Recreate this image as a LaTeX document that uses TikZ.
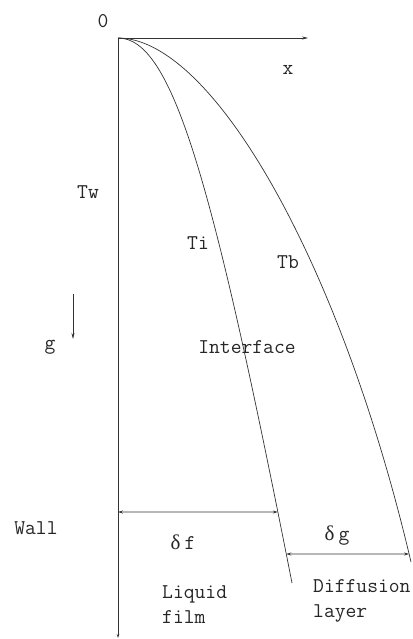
\documentclass[tikz,border=0pt]{standalone}
\usepackage{fontspec}
\newfontfamily\greekfont{Liberation Serif}
\usetikzlibrary{arrows.meta, intersections}

\begin{document}
\begin{tikzpicture}[
    x=1pt, y=-1pt,
    line/.style={draw=black!80, line width=0.7pt},
    arr/.style={line, -{Stealth[length=6pt, width=3pt]}},
    dim/.style={line, {Stealth[length=5pt, width=3pt]}-{Stealth[length=5pt, width=3pt]}},
    lbl/.style={font=\ttfamily\fontsize{21}{25}\selectfont, text=black!85, inner sep=0pt},
]
\useasboundingbox (0,0) rectangle (412,639);

% axes
\coordinate (O) at (118,38);
\coordinate (xend) at (308,38);
\coordinate (wallend) at (118,638);
\draw[arr] (O) -- (xend);
\draw[line, -{Stealth[length=4pt, width=2.5pt]}] (O) -- (wallend);

% interface and bulk profiles
\draw[line, name path=ti] (O) .. controls (172,38) and (212,177) .. (292,583);
\draw[line, name path=tb] (O) .. controls (212,38) and (340,260) .. (411,562);

% film thicknesses
\path[name path=dfrow] (118,512) -- (412,512);
\path[name intersections={of=ti and dfrow, by=dfr}];
\coordinate (dfl) at (118,512);
\draw[dim] (dfl) -- (dfr);
\path[name path=dgrow] (118,554) -- (412,554);
\path[name intersections={of=ti and dgrow, by=dgl}];
\path[name intersections={of=tb and dgrow, by=dgr}];
\draw[dim] (dgl) -- (dgr);

% gravity
\coordinate (gtop) at (73,294);
\coordinate (gbot) at (73,339);
\draw[arr] (gtop) -- (gbot);

% labels
\node[lbl] (origin) at (103,21) {0};
\node[lbl] (xlab) at (288,70) {x};
\node[lbl] (tw) at (88,192) {Tw};
\node[lbl] (tilab) at (198,243) {Ti};
\node[lbl] (tblab) at (288,262) {Tb};
\node[lbl] (glab) at (50,347) {g};
\node[lbl] (iface) at (247,347) {Interface};
\node[lbl] (wall) at (36,528) {Wall};
\node[lbl] (df) at (183,542) {{\greekfont δ}\hspace{4pt}f};
\node[lbl] (dg) at (337,536) {{\greekfont δ}\hspace{4pt}g};
\node[lbl, align=left, anchor=west] (liquid) at (162,605) {Liquid\\film};
\node[lbl, align=left, anchor=west] (diffusion) at (313,601) {Diffusion\\layer};
\end{tikzpicture}
\end{document}
